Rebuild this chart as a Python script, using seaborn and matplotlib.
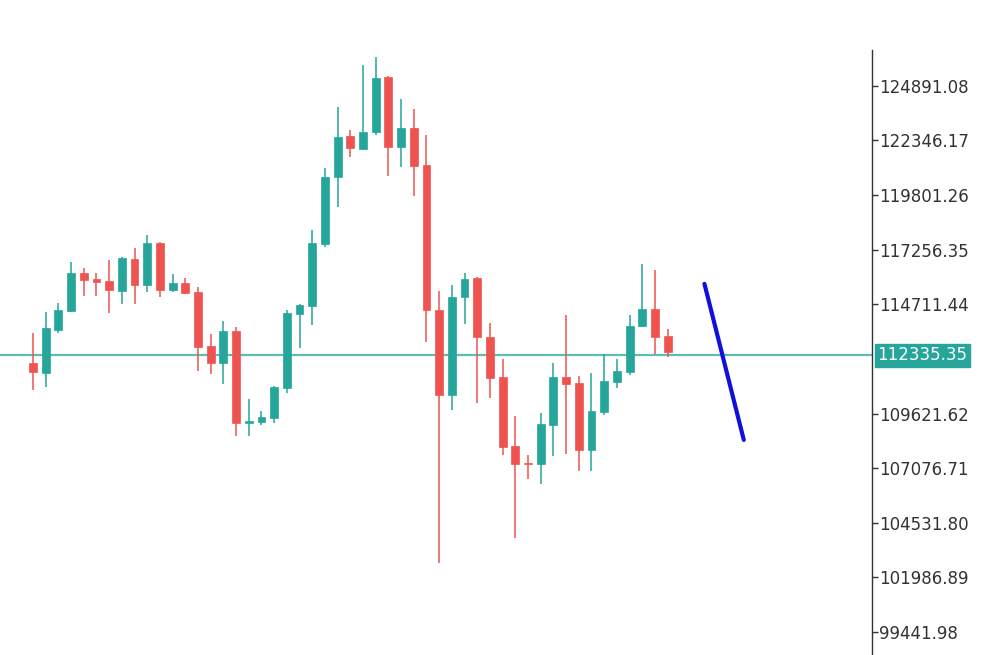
import matplotlib
matplotlib.use("Agg")
import matplotlib.pyplot as plt
import seaborn as sns
import numpy as np
import pandas as pd

opens = [111980,111514,113518,114404,116175,115895,115802,115336,116827,115616,
         117573,115383,115709,115289,112772,111980,113472,109183,109230,109416,
         110815,114264,114637,117527,120649,122560,121955,122747,125310,122048,
         122933,121209,114450,110489,115056,115942,113192,111327,108111,107319,
         107272,109090,111327,111048,107925,109696,111094,111561,113705,114497,113238]
closes = [111561,113611,114450,116175,115849,115755,115383,116874,115616,117573,
          115383,115709,115243,112726,111980,113472,109183,109277,109463,110861,
          114311,114683,117573,120649,122514,122001,122747,125264,122048,122933,
          121162,114450,110489,115056,115895,113192,111281,108065,107272,107272,
          109137,111327,111001,107925,109743,111141,111607,113705,114497,113192,112493]
highs = [113378,114357,114777,116688,116408,116175,116781,116920,117340,117946,
         117600,116128,115942,115522,113332,113938,113658,110302,109743,110900,
         114450,114720,118179,121069,123912,122840,125870,126243,125350,124285,
         123819,122607,115336,115616,116175,115990,113844,112166,109510,107692,
         109650,111980,114217,111370,111514,112400,112166,114217,116594,116315,113565]
lows = [110722,110861,113378,114350,115103,115103,114311,114730,114730,115289,
        115056,115289,115200,111607,111467,111001,108577,108577,109090,109183,
        110582,112679,113751,117387,119251,121582,121900,122607,120696,121116,
        119764,112959,102658,109789,113798,110116,110349,107692,103823,106573,
        106340,107645,107739,106946,106946,109556,110815,111421,113650,112400,112260]
trend_x = [52.9, 56.0]
trend_y = [115662, 108391]
current_price = 112335.35
tick_values = [124891.08, 122346.17, 119801.26, 117256.35, 114711.44,
               109621.62, 107076.71, 104531.80, 101986.89, 99441.98]

GREEN = "#26a69a"
RED = "#ef5350"

sns.set_style("white")
plt.rcParams['font.family'] = ['DejaVu Sans']

fig = plt.figure(figsize=(10, 6.55), dpi=100)
ax = fig.add_axes([0, 0, 0.872, 0.924])

df = pd.DataFrame({"o": opens, "c": closes, "h": highs, "l": lows})
df["i"] = np.arange(len(df))
df["up"] = df["c"] >= df["o"]

# horizontal current-price line
ax.axhline(current_price, color="#5dbdb0", lw=1.6, zorder=1)

for _, r in df.iterrows():
    col = GREEN if r["up"] else RED
    ax.vlines(r["i"], r["l"], r["h"], color=col, lw=1.3, zorder=2, alpha=0.85)
    lo = min(r["o"], r["c"]); hi = max(r["o"], r["c"])
    h = max(hi - lo, 60)
    ax.bar(r["i"], h, bottom=lo - (h - (hi - lo)) / 2, width=0.62, color=col,
           edgecolor=col, lw=0.5, zorder=3)

sns.lineplot(x=trend_x, y=trend_y, ax=ax, color="#1010dd", lw=3, zorder=4)

ax.set_xlim(-2.6, 66.1)
ax.set_ylim(98370, 126569)
ax.set_xticks([])
ax.yaxis.tick_right()
ax.set_yticks(tick_values)
ax.set_yticklabels([f"{v:.2f}" for v in tick_values])
ax.tick_params(axis="y", direction="out", length=4, width=1, pad=1,
               labelsize=12, colors="#333333")
for s in ["top", "left", "bottom"]:
    ax.spines[s].set_visible(False)
ax.spines["right"].set_color("#333333")
ax.spines["right"].set_linewidth(1)

ax.annotate(f"{current_price:.2f}", xy=(1.0, current_price),
            xycoords=("axes fraction", "data"), xytext=(4, 0),
            textcoords="offset points", va="center", ha="left",
            fontsize=12, color="white",
            bbox=dict(boxstyle="square,pad=0.15", fc=GREEN, ec=GREEN))

fig.savefig("out.png", dpi=100)
